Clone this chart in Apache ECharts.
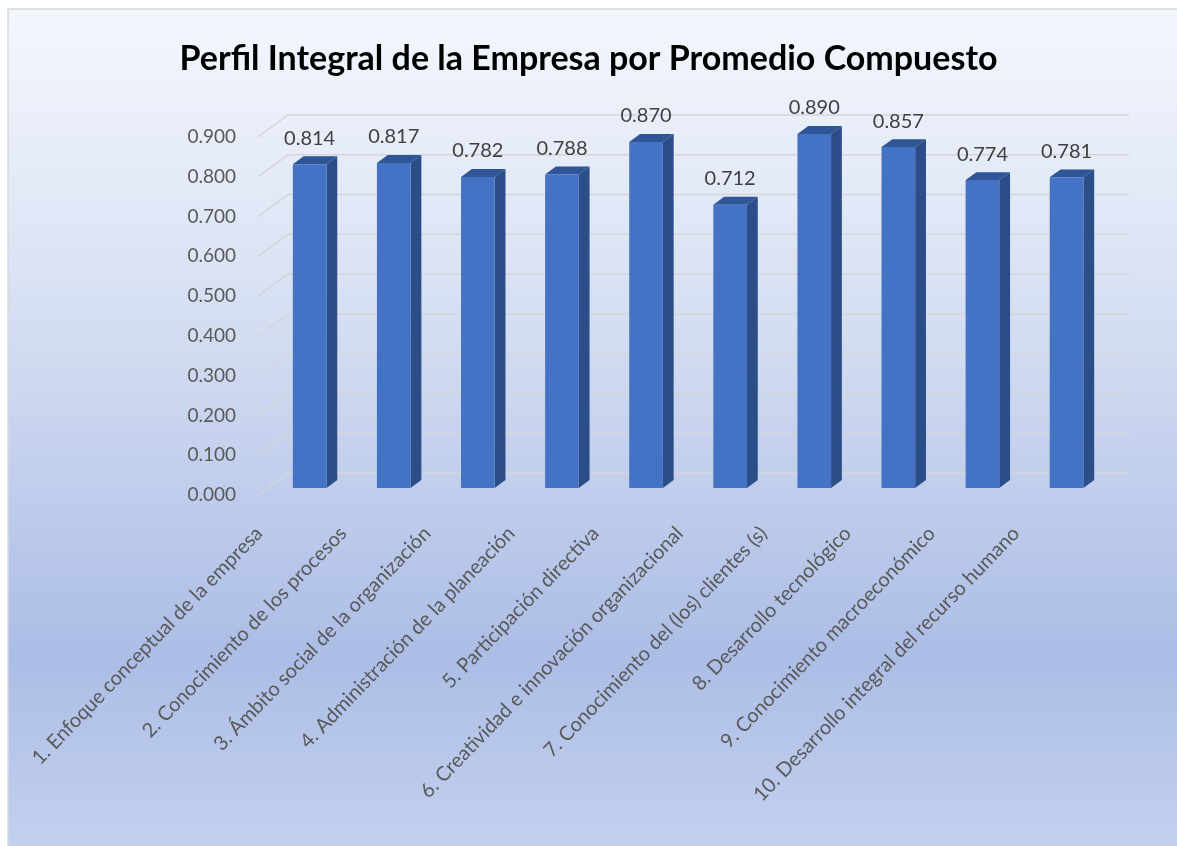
<!DOCTYPE html>
<html>
<head>
<meta charset="utf-8">
<style>
  html, body { margin: 0; padding: 0; background: #fff; }
  #chart { width: 1177px; height: 846px; }
</style>
<script src="https://cdn.jsdelivr.net/npm/echarts@6/dist/echarts.min.js"></script>
</head>
<body>
<div id="chart"></div>
<script>
var categories = [
  '1. Enfoque conceptual de la empresa',
  '2. Conocimiento de los procesos',
  '3. Ámbito social de la organización',
  '4. Administración de la planeación',
  '5. Participación directiva',
  '6. Creatividad e innovación organizacional',
  '7. Conocimiento del (los) clientes (s)',
  '8. Desarrollo tecnológico',
  '9. Conocimiento macroeconómico',
  '10. Desarrollo integral del recurso humano'
]
var values = [0.814, 0.817, 0.782, 0.788, 0.870, 0.712, 0.890, 0.857, 0.774, 0.781]
var yTicks = [0, 0.1, 0.2, 0.3, 0.4, 0.5, 0.6, 0.7, 0.8, 0.9]

// profundidad del "3D": desplazamiento de la pared del fondo
var DX = 30
var DY = 22
var FRONT = 0.32 // posición de la cara frontal de la barra
var BACK = 0.68 // posición de la cara trasera

var myChart = echarts.init(document.getElementById('chart'))

function barItem (params, api) {
  var i = api.value(0)
  var v = api.value(1)
  var base = api.coord([i, 0])
  var top = api.coord([i, v])
  var bw = api.size([1, 0])[0] * 0.4
  var x0 = base[0] - bw / 2 + DX * FRONT
  var x1 = x0 + bw
  var yb = base[1] - DY * FRONT
  var yt = top[1] - DY * FRONT
  var sx = DX * (BACK - FRONT)
  var sy = DY * (BACK - FRONT)
  return {
    type: 'group',
    children: [
      {
        type: 'polygon',
        shape: { points: [[x1, yb], [x1, yt], [x1 + sx, yt - sy], [x1 + sx, yb - sy]] },
        style: { fill: '#2c4e88' }
      },
      {
        type: 'polygon',
        shape: { points: [[x0, yt], [x1, yt], [x1 + sx, yt - sy], [x0 + sx, yt - sy]] },
        style: { fill: '#2f5597' }
      },
      {
        type: 'rect',
        shape: { x: x0, y: yt, width: bw, height: yb - yt },
        style: { fill: '#4472c4' }
      },
      {
        type: 'text',
        style: {
          text: v.toFixed(3),
          x: x0 + bw / 2,
          y: yt - 26,
          align: 'center',
          verticalAlign: 'middle',
          fontFamily: 'Lato',
          fontSize: 20,
          fill: '#404040'
        }
      }
    ]
  }
}

function gridItem (params, api) {
  var cs = params.coordSys
  var y = api.coord([0, api.value(1)])[1]
  return {
    type: 'polyline',
    shape: { points: [[cs.x, y], [cs.x + DX, y - DY], [cs.x + cs.width + DX, y - DY]] },
    style: { stroke: '#d4d6da', lineWidth: 1.5, fill: null }
  }
}

myChart.setOption({
  backgroundColor: '#ffffff',
  graphic: [
    {
      type: 'rect',
      z: -10,
      silent: true,
      shape: { x: 8, y: 9, width: 1190, height: 860 },
      style: {
        fill: new echarts.graphic.LinearGradient(0, 0, 0, 1, [
          { offset: 0, color: '#f4f7fd' },
          { offset: 0.3, color: '#dbe3f4' },
          { offset: 0.75, color: '#acbde6' },
          { offset: 1, color: '#c5d3ef' }
        ]),
        stroke: '#d9d9d9',
        lineWidth: 1.5
      }
    }
  ],
  title: {
    text: 'Perfil Integral de la Empresa por Promedio Compuesto',
    left: 'center',
    top: 37,
    textStyle: {
      fontFamily: 'Lato',
      fontWeight: 'bold',
      fontSize: 34,
      color: '#000000'
    }
  },
  grid: [
    { left: 258, right: 78, top: 137, bottom: 351 },
    { left: 217, right: 119, top: 137, bottom: 351 }
  ],
  xAxis: [
    {
      type: 'category',
      gridIndex: 0,
      data: categories,
      axisLine: { show: false },
      axisTick: { show: false },
      axisLabel: { show: false }
    },
    {
      type: 'category',
      gridIndex: 1,
      data: categories,
      axisLine: { show: false },
      axisTick: { show: false },
      axisLabel: {
        rotate: 46,
        margin: 35,
        interval: 0,
        fontFamily: 'Lato',
        fontSize: 20,
        color: '#595959'
      }
    }
  ],
  yAxis: [
    {
      type: 'value',
      gridIndex: 0,
      min: 0,
      max: 0.9,
      interval: 0.1,
      axisLine: { show: false },
      axisTick: { show: false },
      splitLine: { show: false },
      axisLabel: {
        margin: 22,
        fontFamily: 'Lato',
        fontSize: 19,
        color: '#595959',
        formatter: function (v) { return v.toFixed(3) }
      }
    },
    {
      type: 'value',
      gridIndex: 1,
      min: 0,
      max: 0.9,
      show: false
    }
  ],
  series: [
    {
      type: 'custom',
      xAxisIndex: 0,
      yAxisIndex: 0,
      silent: true,
      z: 1,
      renderItem: gridItem,
      data: yTicks.map(function (t) { return [0, t] })
    },
    {
      type: 'custom',
      xAxisIndex: 0,
      yAxisIndex: 0,
      z: 2,
      renderItem: barItem,
      data: values.map(function (v, i) { return [i, v] })
    }
  ]
})
</script>
</body>
</html>
